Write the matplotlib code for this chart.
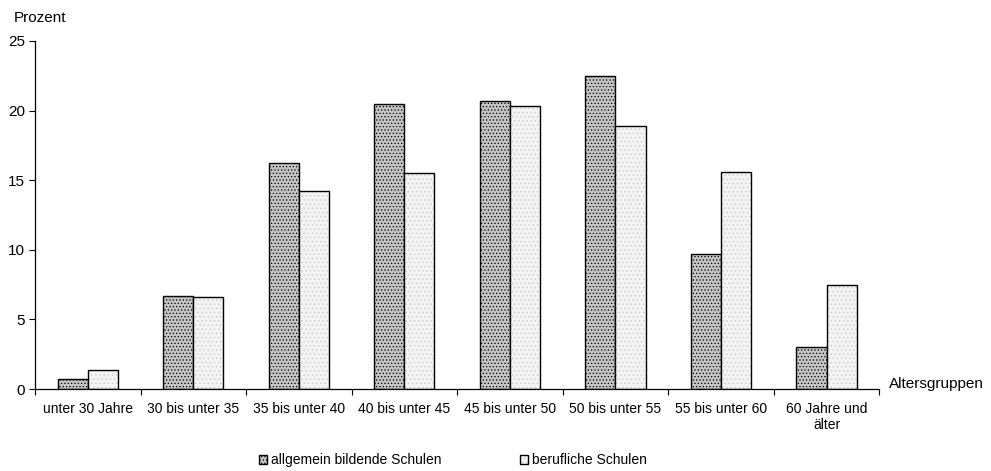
import matplotlib
matplotlib.use('Agg')
import matplotlib.pyplot as plt
import numpy as np

# data
categories = ['unter 30 Jahre', '30 bis unter 35', '35 bis unter 40', '40 bis unter 45',
              '45 bis unter 50', '50 bis unter 55', '55 bis unter 60', '60 Jahre und\nälter']
allgemein = [0.7, 6.7, 16.2, 20.5, 20.7, 22.5, 9.7, 3.0]
beruflich = [1.4, 6.6, 14.2, 15.5, 20.3, 18.9, 15.6, 7.5]
series_names = ['allgemein bildende Schulen', 'berufliche Schulen']

plt.rcParams['font.family'] = ['Liberation Sans', 'DejaVu Sans']
plt.rcParams['hatch.linewidth'] = 0.5

fig = plt.figure(figsize=(9.91, 4.71), dpi=100)
ax = fig.add_axes([0.0353, 0.174, 0.852, 0.739])

x = np.arange(len(categories))
w = 0.285
plt.rcParams['hatch.color'] = '#8a8a8a'
b1 = ax.bar(x - w/2, allgemein, w, facecolor='#c4c4c4', edgecolor='black', lw=1.0,
            hatch='.....', label=series_names[0])
b2 = ax.bar(x + w/2, beruflich, w, facecolor='#f4f4f4', edgecolor='black', lw=1.0,
            hatch='....', label=series_names[1])
for p in b2:
    p._hatch_color = matplotlib.colors.to_rgba('#c8c8c8')

ax.set_xlim(-0.5, len(categories) - 0.5)
ax.set_ylim(0, 25)
ax.set_yticks(np.arange(0, 26, 5))
ax.set_xticks(x)
ax.set_xticklabels(categories, fontsize=10)
ax.set_xticks(np.arange(-0.5, len(categories), 1), minor=True)
ax.tick_params(axis='x', which='major', length=0, pad=9)
ax.tick_params(axis='x', which='minor', length=4, direction='out', width=0.8)
ax.tick_params(axis='y', labelsize=11, length=4, direction='out', width=0.8, pad=3)
for s in ['top', 'right']:
    ax.spines[s].set_visible(False)
ax.spines['left'].set_linewidth(0.9)
ax.spines['bottom'].set_linewidth(0.9)

fig.text(0.0404, 0.962, 'Prozent', fontsize=11, ha='center', va='center')
fig.text(0.897, 0.185, 'Altersgruppen', fontsize=11, ha='left', va='center')

fig.legend(handles=[b1, b2], loc='center', bbox_to_anchor=(0.457, 0.023), ncol=2,
           frameon=False, fontsize=10, handlelength=0.6, handleheight=0.6,
           handletextpad=0.3, columnspacing=5.6)

plt.savefig('out.png', dpi=100)
